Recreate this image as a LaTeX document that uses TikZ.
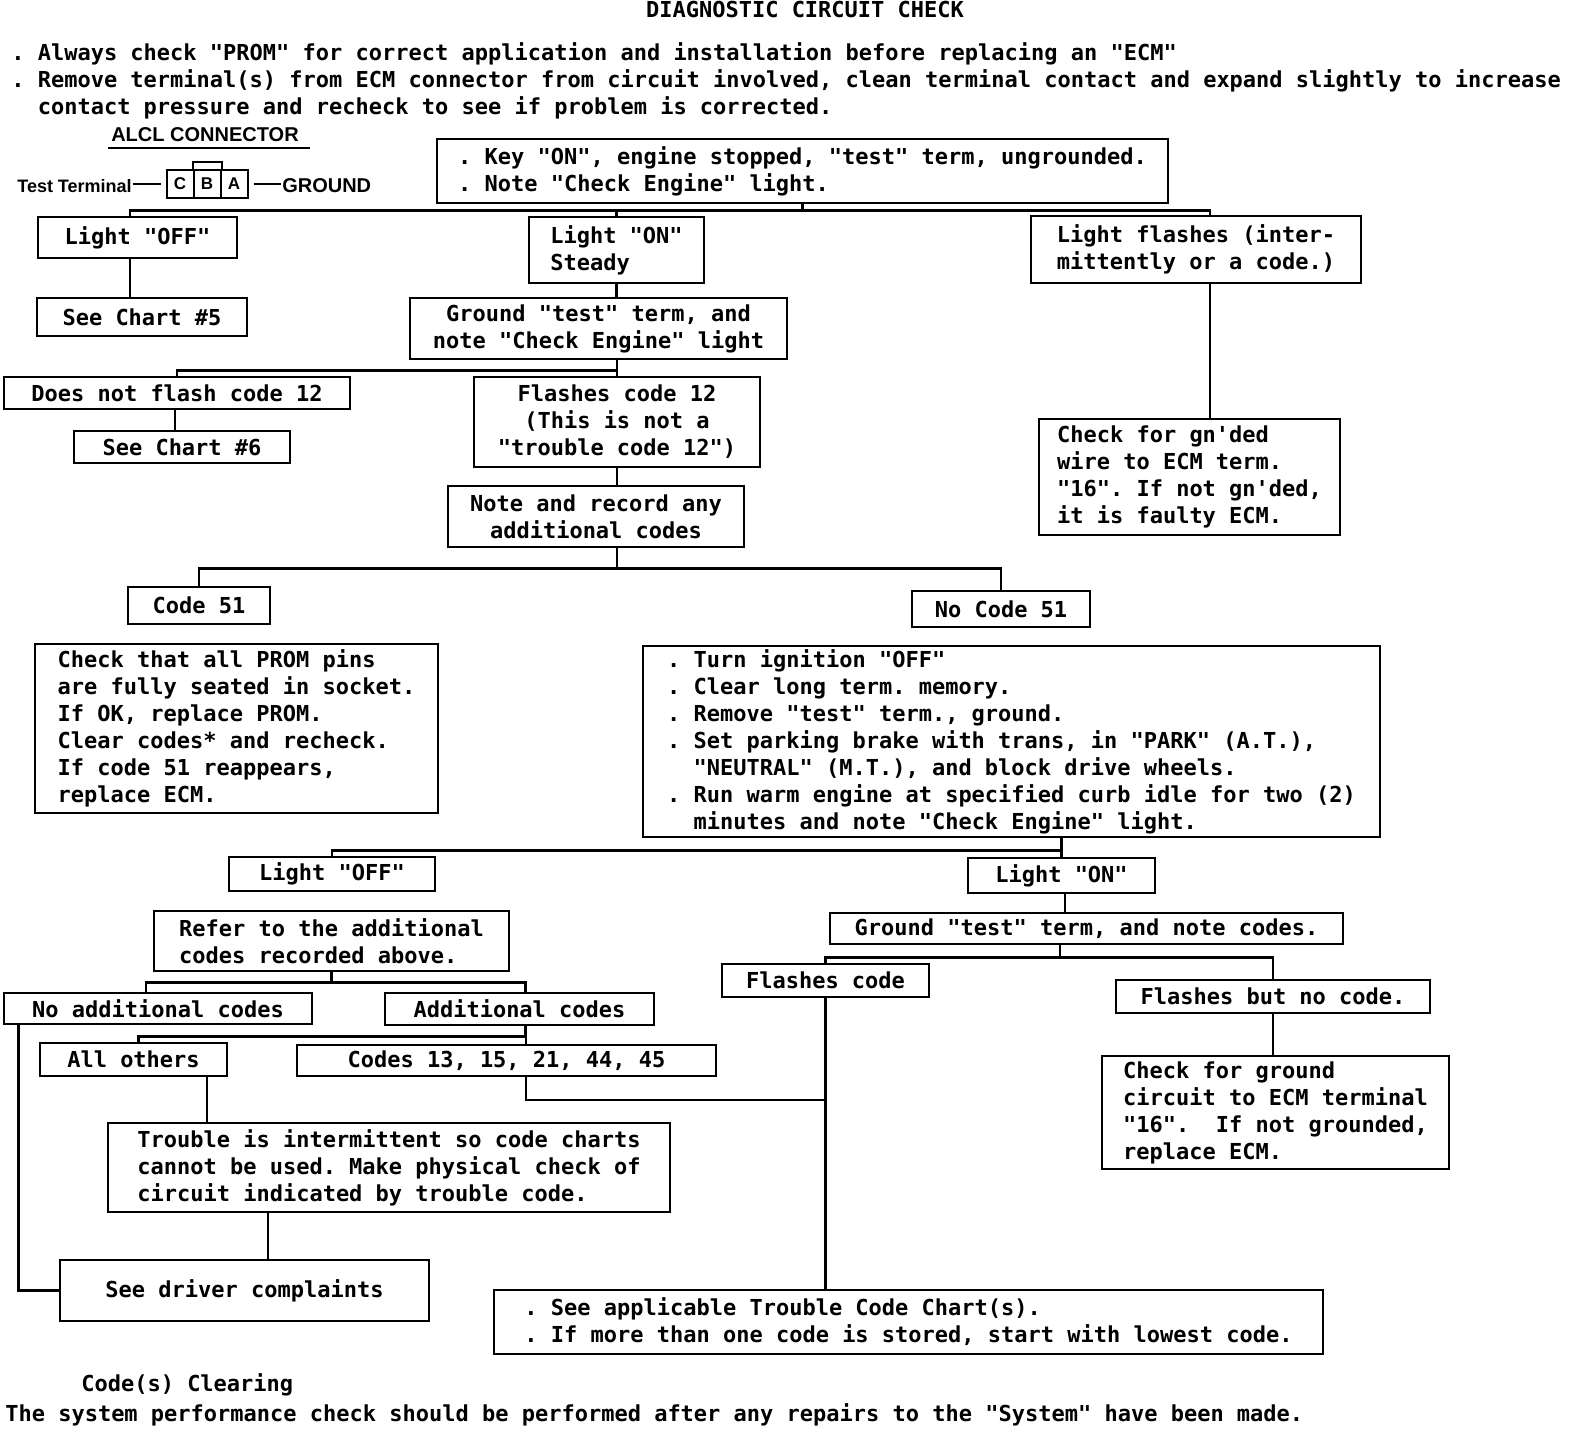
\documentclass[tikz,border=0pt]{standalone}
\usepackage{fontspec}
\setmonofont{DejaVu Sans Mono}
\newfontfamily\alclfont{Liberation Sans Bold}

\begin{document}
\begin{tikzpicture}[x=1pt,y=-1pt,line width=2.6pt,
  font=\ttfamily\bfseries\fontsize{22}{27}\selectfont,
  box/.style={draw,inner sep=0pt,align=left},
  cell/.style={draw,line width=2pt,inner sep=0pt,minimum width=27,minimum height=28,
    font=\alclfont\fontsize{17}{20}\selectfont}]

\useasboundingbox (0,0) rectangle (1584,1444);

% heading and notes
\node[anchor=base,inner sep=0pt] (title) at (805,17) {DIAGNOSTIC CIRCUIT CHECK};
\node[anchor=north west,align=left,inner sep=0pt] (notes) at (10,41)
  {. Always check "PROM" for correct application and installation before replacing an "ECM"\\
   . Remove terminal(s) from ECM connector from circuit involved, clean terminal contact and expand slightly to increase\\
   \phantom{. }contact pressure and recheck to see if problem is corrected.};

% ALCL connector
\node[anchor=base,inner sep=0pt,font=\alclfont\fontsize{20}{24}\selectfont] (alcl) at (205,141) {ALCL CONNECTOR};
\draw[line width=2pt] ([yshift=-7pt,xshift=-2pt]alcl.base west) -- ([yshift=-7pt,xshift=10pt]alcl.base east);
\node[anchor=base east,inner sep=0pt,font=\alclfont\fontsize{18}{21}\selectfont] (term) at (133,192) {Test Terminal};
\node[cell] (Cc) at (180,184) {C};
\node[cell] (Bc) at (207,184) {B};
\node[cell] (Ac) at (234,184) {A};
\node[anchor=base west,inner sep=0pt,font=\alclfont\fontsize{20}{24}\selectfont] (gnd) at (281,192) {GROUND};
\draw[line width=2pt] (Bc.north west) -- ++(0,-7) -| (Bc.north east);
\draw[line width=2pt] (term.east |- Cc.west) -- ([xshift=-5pt]Cc.west);
\draw[line width=2pt] ([xshift=5pt]Ac.east) -- (gnd.west |- Ac.east);

% boxes
\node[box,minimum width=731,minimum height=64] (A) at (802.5,171)
  {. Key "ON", engine stopped, "test" term, ungrounded.\\. Note "Check Engine" light.};
\node[box,minimum width=199,minimum height=41] (B) at (137.5,237.5) {Light "OFF"};
\node[box,minimum width=175,minimum height=66] (C) at (616.5,250) {Light "ON"\\Steady};
\node[box,minimum width=330,minimum height=67] (D) at (1196,249.5)
  {Light flashes (inter-\\mittently or a code.)};
\node[box,minimum width=210,minimum height=38] (E) at (142,317) {See Chart \#5};
\node[box,align=center,minimum width=377,minimum height=61] (F) at (598.5,328.5)
  {Ground "test" term, and\\note "Check Engine" light};
\node[box,minimum width=346,minimum height=32] (G) at (177,393) {Does not flash code 12};
\node[box,minimum width=216,minimum height=32] (H) at (182,447) {See Chart \#6};
\node[box,align=center,minimum width=286,minimum height=90] (I) at (617,422)
  {Flashes code 12\\ (This is not a\\"trouble code 12")};
\node[box,align=center,minimum width=296,minimum height=61] (J) at (596,516.5)
  {Note and record any\\additional codes};
\node[box,minimum width=142,minimum height=37] (K) at (199,605.5) {Code 51};
\node[box,minimum width=178,minimum height=36] (L) at (1001,609) {No Code 51};
\node[box,minimum width=403,minimum height=169] (M) at (236.5,728.5)
  {Check that all PROM pins\\are fully seated in socket.\\If OK, replace PROM.\\Clear codes* and recheck.\\If code 51 reappears,\\replace ECM.};
\node[box,minimum width=301,minimum height=116] (N) at (1189.5,477)
  {Check for gn'ded\\wire to ECM term.\\"16". If not gn'ded,\\it is faulty ECM.};
\node[box,minimum width=737,minimum height=191] (O) at (1011.5,741.5)
  {. Turn ignition "OFF"\\. Clear long term. memory.\\. Remove "test" term., ground.\\
   . Set parking brake with trans, in "PARK" (A.T.),\\\phantom{. }"NEUTRAL" (M.T.), and block drive wheels.\\
   . Run warm engine at specified curb idle for two (2)\\\phantom{. }minutes and note "Check Engine" light.};
\node[box,minimum width=206,minimum height=34] (P) at (332,874) {Light "OFF"};
\node[box,minimum width=187,minimum height=35] (Q) at (1061.5,875.5) {Light "ON"};
\node[box,minimum width=355,minimum height=60] (R) at (331.5,941)
  {Refer to the additional\\codes recorded above.};
\node[box,minimum width=513,minimum height=31] (S) at (1086.5,928.5) {Ground "test" term, and note codes.};
\node[box,minimum width=207,minimum height=33] (T) at (825.5,980.5) {Flashes code};
\node[box,minimum width=314,minimum height=33] (U) at (1273,996.5) {Flashes but no code.};
\node[box,minimum width=308,minimum height=31] (V) at (158,1008.5) {No additional codes};
\node[box,minimum width=269,minimum height=32] (W) at (519.5,1009) {Additional codes};
\node[box,minimum width=187,minimum height=33] (X) at (133.5,1059.5) {All others};
\node[box,minimum width=419,minimum height=31] (Y) at (506.5,1060.5) {Codes 13, 15, 21, 44, 45};
\node[box,minimum width=347,minimum height=113] (Z) at (1275.5,1112.5)
  {Check for ground\\circuit to ECM terminal\\"16".\ \ If not grounded,\\replace ECM.};
\node[box,minimum width=562,minimum height=89] (AA) at (389,1167.5)
  {Trouble is intermittent so code charts\\cannot be used. Make physical check of\\circuit indicated by trouble code.};
\node[box,minimum width=369,minimum height=61] (AB) at (244.5,1290.5) {See driver complaints};
\node[box,minimum width=829,minimum height=64] (AC) at (908.5,1322)
  {. See applicable Trouble Code Chart(s).\\. If more than one code is stored, start with lowest code.};

% footer
\node[anchor=base west,inner sep=0pt] (clr) at (80,1391) {Code(s) Clearing};
\node[anchor=base west,inner sep=0pt] (perf) at (4,1421)
  {The system performance check should be performed after any repairs to the "System" have been made.};

% branches
\draw (A.south) -- ++(0,6) -| ([xshift=-7.5pt]B.north);
\draw (A.south) -- ++(0,6) -| (C.north);
\draw (A.south) -- ++(0,6) -| ([xshift=14pt]D.north);
\draw (F.south -| I.north) -- ++(0,10) -| (G.north);
\draw (F.south -| I.north) -- (I.north);
\draw (J.south -| I.north) -- ++(0,20) -| (K.north);
\draw (J.south -| I.north) -- ++(0,20) -| (L.north);
\draw (O.south -| Q.north) -- ++(0,12) -| (P.north);
\draw (O.south -| Q.north) -- (Q.north);
\draw (S.south -| 1060,0) -- ++(0,12) -| (T.north);
\draw (S.south -| 1060,0) -- ++(0,12) -| (U.north);
\draw (R.south) -- ++(0,10) -| ([xshift=-12pt]V.north);
\draw (R.south) -- ++(0,10) -| ([xshift=6pt]W.north);
\draw ([xshift=6pt]W.south) -- ++(0,10) -| ([xshift=5pt]X.north);
\draw (Y.south -| 526,0) |- (T.south |- 0,1100);
\draw ([xshift=16pt]V.south west) |- (AB.west);

\path
  (B.south -| 130,0) edge (E.north -| 130,0)
  (C.south) edge (C.south |- F.north)
  (D.south -| 1210,0) edge (N.north -| 1210,0)
  (G.south -| 175,0) edge (H.north -| 175,0)
  (I.south) edge (I.south |- J.north)
  (Q.south -| 1065,0) edge (S.north -| 1065,0)
  (U.south) edge (U.south |- Z.north)
  (W.south -| 526,0) edge (Y.north -| 526,0)
  (T.south) edge (T.south |- AC.north)
  (X.south -| 207,0) edge (AA.north -| 207,0)
  (AA.south -| 268,0) edge (AB.north -| 268,0);

\end{tikzpicture}
\end{document}
